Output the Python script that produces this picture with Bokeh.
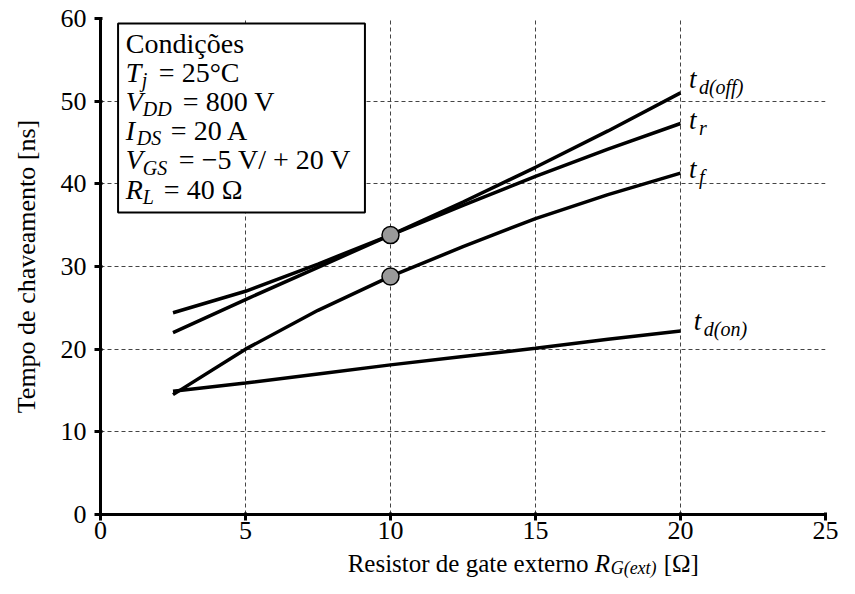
from bokeh.plotting import figure
from bokeh.layouts import column
from bokeh.models import Range1d, FixedTicker, Label, BoxAnnotation
from bokeh.embed import file_html
from bokeh.resources import INLINE

# ---------------- data ----------------
rg = [2.5, 5, 7.5, 10, 12.5, 15, 17.5, 20]
t_d_off = [22.0, 26.0, 29.9, 33.8, 37.8, 42.0, 46.4, 51.0]
t_r = [24.4, 27.0, 30.3, 33.8, 37.4, 40.9, 44.2, 47.3]
t_f = [14.5, 20.0, 24.7, 28.8, 32.4, 35.8, 38.7, 41.3]
t_d_on = [14.9, 15.9, 17.0, 18.1, 19.1, 20.1, 21.2, 22.2]
marker_rg = [10, 10]
marker_t = [33.8, 28.8]
x_ticks = [0, 5, 10, 15, 20, 25]
y_ticks = [0, 10, 20, 30, 40, 50, 60]

FONT = "Liberation Serif"
MAIN = "26px"

W = 839
H1 = 550
H2 = 28

p = figure(width=W, height=H1, output_backend="svg", toolbar_location=None,
           x_range=Range1d(0, 25), y_range=Range1d(0, 60),
           min_border_left=100, min_border_right=14, min_border_top=18,
           min_border_bottom=H1 - 514)
p.outline_line_color = None
p.background_fill_color = "white"
p.border_fill_color = "white"

for ax in (p.xaxis[0], p.yaxis[0]):
    ax.axis_line_width = 3
    ax.axis_line_color = "black"
    ax.major_tick_line_width = 3
    ax.major_tick_line_color = "black"
    ax.major_tick_in = 2
    ax.major_tick_out = 6
    ax.minor_tick_line_color = None
    ax.major_label_text_font = FONT
    ax.major_label_text_font_size = MAIN
    ax.major_label_text_color = "black"
p.xaxis[0].ticker = FixedTicker(ticks=x_ticks)
p.yaxis[0].ticker = FixedTicker(ticks=y_ticks)
p.xaxis[0].major_label_standoff = 1
p.yaxis[0].major_label_standoff = 8
p.yaxis[0].axis_label = "Tempo de chaveamento [ns]"
p.yaxis[0].axis_label_text_font = FONT
p.yaxis[0].axis_label_text_font_size = MAIN
p.yaxis[0].axis_label_text_font_style = "normal"
p.yaxis[0].axis_label_text_color = "black"
p.yaxis[0].axis_label_standoff = 17

for g in (p.xgrid[0], p.ygrid[0]):
    g.grid_line_color = "#444444"
    g.grid_line_dash = "4 3"
    g.grid_line_width = 1

# curves
for ys in (t_d_off, t_r, t_f, t_d_on):
    p.line(rg, ys, line_color="black", line_width=3.5)
p.scatter(marker_rg, marker_t, size=17, fill_color="#999999",
          line_color="black", line_width=1.5)

# reference pixel -> data helpers (annotation placement only)
def dx(px):
    return (px - 100) / 29.72

def dy(py):
    return (514 - py) / 8.267

def lab(fig, x, y, text, size=MAIN, style="normal", xo=0, yo=0):
    px = float(size.replace("px", ""))
    fig.add_layout(Label(x=x, y=y, text=text, text_font=FONT, text_font_size=size,
                         text_font_style=style, text_color="black",
                         x_offset=xo, y_offset=yo + 0.36 * px,
                         text_baseline="alphabetic", text_align="left"))

# conditions box
p.add_layout(BoxAnnotation(left=dx(118), right=dx(371), top=dy(23), bottom=dy(212),
                           fill_color="white", fill_alpha=1.0,
                           line_color="black", line_alpha=1.0, line_width=2))
BOXF = "28px"
BOXS = "20px"
bx = dx(126)
lab(p, bx, dy(52.7), "Condições", size=BOXF)
box_lines = [
    (81.7, "T", "j", 16, "= 25°C", 33),
    (111.0, "V", "DD", 17, "= 800 V", 57),
    (140.0, "I", "DS", 11, "= 20 A", 45),
    (169.5, "V", "GS", 17, "= −5 V/ + 20 V", 53),
    (199.0, "R", "L", 17, "= 40 Ω", 38),
]
for base, sym, sub, sxo, rest, rxo in box_lines:
    lab(p, bx, dy(base), sym, size=BOXF, style="italic")
    lab(p, bx, dy(base), sub, size=BOXS, style="italic", xo=sxo, yo=-5)
    lab(p, bx, dy(base), rest, size=BOXF, xo=rxo)

# curve labels
curve_labels = [
    (703, 88, "d(off)"),
    (703, 129, "r"),
    (703, 178, "f"),
    (708, 330, "d(on)"),
]
for px_, py_, sub in curve_labels:
    lab(p, dx(px_), dy(py_), "t", size="27px", style="italic")
    lab(p, dx(px_), dy(py_), sub, size="20px", style="italic", xo=10, yo=-6)

# x axis title (separate strip so that it is not clipped by the frame)
t = figure(width=W, height=H2, output_backend="svg", toolbar_location=None,
           x_range=Range1d(0, W), y_range=Range1d(0, H2),
           x_axis_location=None, y_axis_location=None,
           min_border_left=0, min_border_right=0, min_border_top=0,
           min_border_bottom=0)
t.grid.visible = False
t.outline_line_color = None
t.background_fill_color = "white"
t.border_fill_color = "white"
TF = "25px"
tx = 286
ty = 6
lab(t, tx, ty, "Resistor de gate externo", size=TF)
lab(t, tx, ty, "R", size=TF, style="italic", xo=247)
lab(t, tx, ty, "G(ext)", size="18px", style="italic", xo=263, yo=-2)
lab(t, tx, ty, "[Ω]", size=TF, xo=316)

layout = column(p, t, spacing=0)
open("out.html", "w").write(file_html(layout, INLINE))
